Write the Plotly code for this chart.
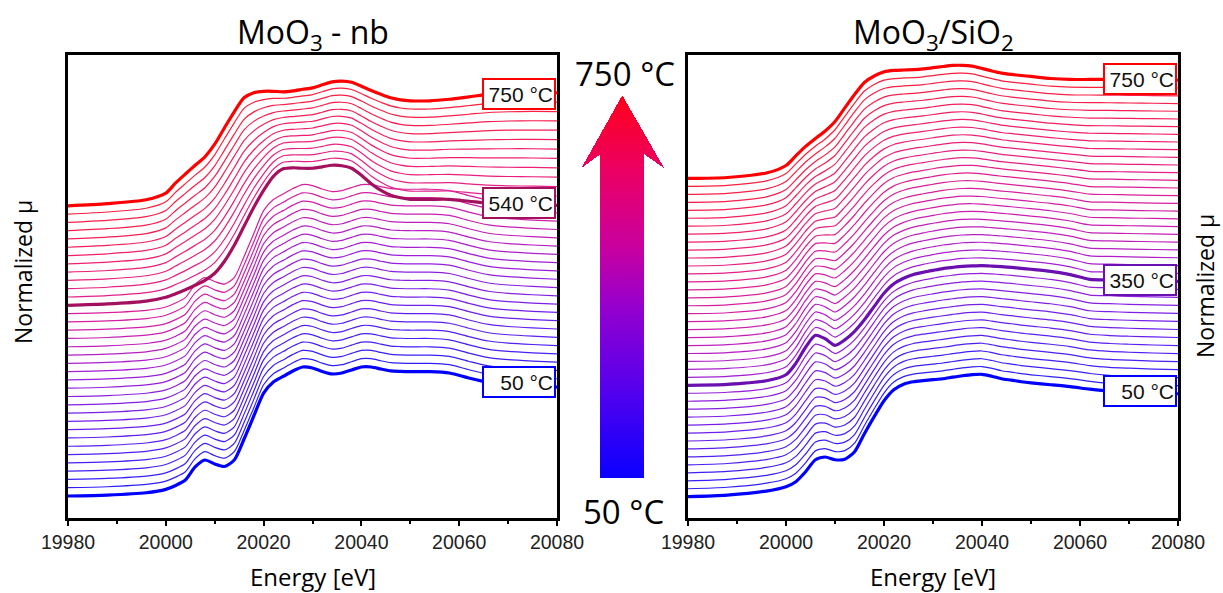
import numpy as np
import plotly.graph_objects as go

# ---------------- data ----------------
energy = [19980, 19988, 19996, 20000, 20002, 20004, 20006, 20008, 20010, 20012,
          20014, 20016, 20018, 20020, 20022, 20024, 20026, 20028, 20030, 20032,
          20034, 20036, 20038, 20040, 20042, 20044, 20046, 20048, 20050, 20054,
          20058, 20062, 20066, 20070, 20075, 20080]

# MoO3 - nb : reference spectra (normalized mu)
nb_50 = [0.000, 0.008, 0.027, 0.055, 0.088, 0.133, 0.242, 0.300, 0.267, 0.246,
         0.300, 0.475, 0.667, 0.858, 0.950, 0.996, 1.042, 1.075, 1.067, 1.038,
         1.017, 1.025, 1.050, 1.075, 1.075, 1.058, 1.042, 1.038, 1.036, 1.036,
         1.025, 0.983, 0.946, 0.929, 0.917, 0.908]
nb_540 = [0.000, 0.011, 0.035, 0.067, 0.096, 0.129, 0.167, 0.208, 0.267, 0.367,
          0.500, 0.658, 0.817, 0.958, 1.075, 1.138, 1.146, 1.142, 1.142, 1.154,
          1.167, 1.163, 1.142, 1.083, 1.013, 0.958, 0.917, 0.896, 0.883, 0.883,
          0.883, 0.867, 0.850, 0.842, 0.838, 0.833]
nb_750 = [0.000, 0.018, 0.050, 0.105, 0.190, 0.265, 0.338, 0.408, 0.513, 0.650,
          0.783, 0.900, 0.942, 0.954, 0.954, 0.950, 0.958, 0.971, 0.983, 1.008,
          1.033, 1.039, 1.029, 0.996, 0.961, 0.929, 0.900, 0.883, 0.875, 0.875,
          0.888, 0.908, 0.929, 0.938, 0.942, 0.942]

nb_temps = [50, 71, 92, 113, 134, 155, 176, 197, 218, 240, 261, 282, 303, 324,
            345, 366, 387, 408, 429, 450, 471, 492, 513, 540, 557, 575, 592, 610,
            627, 645, 662, 680, 697, 715, 732, 750]
# fraction of the 540 °C and 750 °C phases in each scan
nb_frac_540 = [0, 0, 0, 0, 0, 0, 0, 0, 0, 0, 0, 0, 0, 0, 0, 0, 0, 0, 0, 0, 0, 0, 0,
               1.0, 0.92, 0.84, 0.75, 0.67, 0.58, 0.50, 0.42, 0.33, 0.25, 0.17, 0.08, 0.0]
nb_frac_750 = [0, 0, 0, 0, 0, 0, 0, 0, 0, 0, 0, 0, 0, 0, 0, 0, 0, 0, 0, 0, 0, 0, 0,
               0.0, 0.08, 0.16, 0.25, 0.33, 0.42, 0.50, 0.58, 0.67, 0.75, 0.83, 0.92, 1.0]
nb_marked = [50, 540, 750]

# MoO3/SiO2 : reference spectra (normalized mu)
si_50 = [0.000, 0.013, 0.047, 0.083, 0.125, 0.208, 0.308, 0.331, 0.308, 0.313,
         0.375, 0.525, 0.667, 0.800, 0.892, 0.938, 0.958, 0.967, 0.975, 0.983,
         0.996, 1.008, 1.017, 1.020, 1.004, 0.983, 0.971, 0.958, 0.948, 0.933,
         0.917, 0.896, 0.879, 0.871, 0.863, 0.858]
si_350 = [0.000, 0.008, 0.038, 0.088, 0.183, 0.317, 0.417, 0.388, 0.333, 0.379,
          0.450, 0.546, 0.658, 0.767, 0.846, 0.892, 0.923, 0.942, 0.958, 0.973,
          0.983, 0.992, 0.996, 0.998, 0.994, 0.989, 0.983, 0.975, 0.967, 0.950,
          0.923, 0.883, 0.879, 0.875, 0.871, 0.867]
si_750 = [0.000, 0.008, 0.046, 0.108, 0.188, 0.267, 0.333, 0.396, 0.475, 0.588,
          0.700, 0.800, 0.854, 0.888, 0.900, 0.904, 0.907, 0.913, 0.923, 0.933,
          0.942, 0.943, 0.936, 0.917, 0.896, 0.878, 0.867, 0.858, 0.850, 0.833,
          0.825, 0.825, 0.825, 0.823, 0.821, 0.819]

si_temps = [50, 71, 93, 114, 136, 157, 179, 200, 221, 243, 264, 286, 307, 329,
            350, 365, 381, 396, 412, 427, 442, 458, 473, 488, 504, 519, 535, 550,
            565, 581, 596, 612, 627, 642, 658, 673, 688, 704, 719, 735, 750]
si_frac_350 = [0.0, 0.07, 0.14, 0.21, 0.29, 0.36, 0.43, 0.50, 0.57, 0.64, 0.71,
               0.79, 0.86, 0.93, 1.0,
               0.98, 0.96, 0.94, 0.91, 0.88, 0.85, 0.82, 0.78, 0.74, 0.70, 0.66,
               0.62, 0.57, 0.52, 0.47, 0.42, 0.37, 0.32, 0.27, 0.22, 0.17, 0.13,
               0.09, 0.05, 0.02, 0.0]
si_frac_750 = [0, 0, 0, 0, 0, 0, 0, 0, 0, 0, 0, 0, 0, 0, 0.0,
               0.02, 0.04, 0.06, 0.09, 0.12, 0.15, 0.18, 0.22, 0.26, 0.30, 0.34,
               0.38, 0.43, 0.48, 0.53, 0.58, 0.63, 0.68, 0.73, 0.78, 0.83, 0.87,
               0.91, 0.95, 0.98, 1.0]
si_marked = [50, 350, 750]

# ---------------- styling ----------------
W, H = 1223, 593
TICK_FONT = "Liberation Sans, Arial, sans-serif"
TEXT_FONT = "Open Sans, Noto Sans, sans-serif"

STOPS = [(0.0, (10, 0, 255)), (0.25, (90, 0, 235)), (0.45, (150, 0, 205)),
         (0.6, (200, 0, 160)), (0.8, (235, 0, 100)), (1.0, (255, 0, 25))]
MARK_COLORS = {50: "#0000ff", 350: "#6a10b0", 540: "#a3105e", 750: "#ff0000"}


def temp_color(t, lighten=0.0):
    f = min(max((t - 50) / 700.0, 0.0), 1.0)
    c = STOPS[-1][1]
    for (f0, c0), (f1, c1) in zip(STOPS[:-1], STOPS[1:]):
        if f <= f1:
            a = (f - f0) / (f1 - f0)
            c = [c0[k] + a * (c1[k] - c0[k]) for k in range(3)]
            break
    c = [round(v + lighten * (255 - v)) for v in c]
    return "rgb(%d,%d,%d)" % tuple(c)


def px_x(x):
    return x / W


def px_y(y):
    return 1 - y / H


fig = go.Figure()


def add_panel(xa, ya, temps, lo, mid, hi, f_mid, f_hi, step, marked):
    lo, mid, hi = np.array(lo), np.array(mid), np.array(hi)
    curves = []
    for i, t in enumerate(temps):
        w_lo = 1.0 - f_mid[i] - f_hi[i]
        mu = w_lo * lo + f_mid[i] * mid + f_hi[i] * hi
        curves.append((t, mu + i * step))
    for t, y in curves:
        if t in marked:
            continue
        fig.add_trace(go.Scatter(x=energy, y=y, mode="lines", xaxis=xa, yaxis=ya,
                                 line=dict(color=temp_color(t, 0.12), width=1.2,
                                           shape="spline", smoothing=0.7),
                                 hoverinfo="skip", showlegend=False))
    for t, y in curves:
        if t not in marked:
            continue
        col = MARK_COLORS[t]
        fig.add_trace(go.Scatter(x=energy, y=y, mode="lines", xaxis=xa, yaxis=ya,
                                 line=dict(color=col, width=3.2,
                                           shape="spline", smoothing=0.7),
                                 hoverinfo="skip", showlegend=False))
        y_end = float(np.interp(20066, energy, y))
        fig.add_annotation(x=20080, y=y_end, xref=xa, yref=ya,
                           xanchor="right", yanchor="middle", xshift=-1,
                           text="%d °C" % t, showarrow=False,
                           font=dict(family=TICK_FONT, size=21, color="#111"),
                           bgcolor="white", bordercolor=col, borderwidth=2,
                           borderpad=1, width=68, height=26, align="right")


STEP_NB = 0.0691
STEP_SI = 0.0663
add_panel("x", "y", nb_temps, nb_50, nb_540, nb_750, nb_frac_540, nb_frac_750,
          STEP_NB, nb_marked)
add_panel("x2", "y2", si_temps, si_50, si_350, si_750, si_frac_350, si_frac_750,
          STEP_SI, si_marked)

# ---------------- temperature arrow (gradient) ----------------
AX0, AX1 = 576, 670
AY0, AY1 = 88, 484
arrow_poly = [(622, 95), (664, 168), (644, 154), (644, 478), (600, 478),
              (600, 154), (581, 168)]
res = 0.5
gx = np.arange(AX0, AX1, res) + res / 2
gy = np.arange(AY0, AY1, res) + res / 2
PX, PY = np.meshgrid(gx, gy)


def inside(px, py, poly):
    out = np.zeros(px.shape, dtype=bool)
    n = len(poly)
    j = n - 1
    for i in range(n):
        xi, yi = poly[i]
        xj, yj = poly[j]
        cross = ((yi > py) != (yj > py)) & (
            px < (xj - xi) * (py - yi) / (yj - yi + 1e-12) + xi)
        out ^= cross
        j = i
    return out


mask = inside(PX, PY, arrow_poly)
zval = (478 - PY) / (478 - 95)
z = np.where(mask, np.clip(zval, 0, 1), np.nan)
cscale = [[f, "rgb(%d,%d,%d)" % c] for f, c in STOPS]
fig.add_trace(go.Heatmap(x=gx, y=H - gy, z=z, colorscale=cscale, zmin=0, zmax=1,
                         showscale=False, hoverinfo="skip", xaxis="x3",
                         yaxis="y3", zsmooth=False))

# ---------------- axes ----------------
common_x = dict(range=[19980, 20080], showline=True, linecolor="black",
                linewidth=2.5, mirror=True, ticks="outside", ticklen=5,
                tickwidth=2, tickcolor="black", dtick=20, tick0=19980,
                tickformat="d", automargin=False,
                showgrid=False, zeroline=False,
                tickfont=dict(family=TICK_FONT, size=19.5, color="#222"),
                minor=dict(ticks="outside", ticklen=3, tickwidth=2,
                           tickcolor="black", dtick=10, showgrid=False))
common_y = dict(showline=True, linecolor="black", linewidth=2.5, mirror=True,
                ticks="", showticklabels=False, showgrid=False, zeroline=False,
                automargin=False)

PT, PB = 55, 518
fig.update_layout(
    width=W, height=H, margin=dict(l=0, r=0, t=0, b=0, autoexpand=False),
    paper_bgcolor="white", plot_bgcolor="white", showlegend=False,
    xaxis=dict(domain=[px_x(68), px_x(557)], anchor="y", **common_x),
    yaxis=dict(domain=[px_y(PB), px_y(PT)], anchor="x",
               range=[-(PB - 496) / 120, (496 - PT) / 120], **common_y),
    xaxis2=dict(domain=[px_x(688), px_x(1178)], anchor="y2", **common_x),
    yaxis2=dict(domain=[px_y(PB), px_y(PT)], anchor="x2",
                range=[-(PB - 496.7) / 120, (496.7 - PT) / 120], **common_y),
    xaxis3=dict(domain=[px_x(AX0), px_x(AX1)], range=[AX0, AX1], anchor="y3",
                visible=False, fixedrange=True, automargin=False),
    yaxis3=dict(domain=[px_y(AY1), px_y(AY0)], range=[H - AY1, H - AY0],
                anchor="x3", visible=False, fixedrange=True, automargin=False),
)

# ---------------- text ----------------
def text(x, y, s, size, angle=0, family=TEXT_FONT):
    fig.add_annotation(x=px_x(x), y=px_y(y), xref="paper", yref="paper",
                       text=s, showarrow=False, textangle=angle,
                       xanchor="center", yanchor="middle",
                       font=dict(family=family, size=size, color="black"))


text(312.5, 34, "MoO<sub>3</sub> - nb", 32)
text(933, 34, "MoO<sub>3</sub>/SiO<sub>2</sub>", 32)
text(312.5, 576, "Energy [eV]", 24)
text(933, 576, "Energy [eV]", 24)
text(23, 272, "Normalized µ", 23, angle=-90)
text(1205, 286, "Normalized µ", 23, angle=-90)
text(625, 73, "750 °C", 33)
text(623, 511, "50 °C", 33)

fig.write_html("out.html")
